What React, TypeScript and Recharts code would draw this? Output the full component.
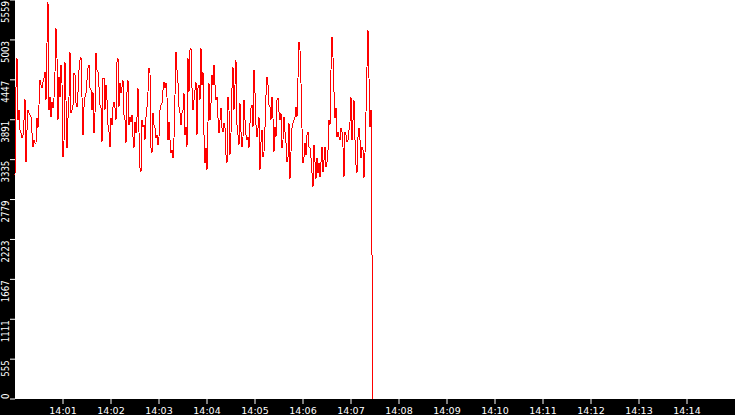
import { LineChart, Line, XAxis, YAxis, CartesianGrid } from 'recharts';

// one reading every 1.25 s starting at 14:00:00
const sampleStep = 1.25;

const readings = [
  3120, 4346, 4750, 3886, 4026, 3747, 3705, 3636, 3677, 3886,
  4179, 3301, 3747, 4026, 3984, 3956, 3928, 3705, 3510, 3608,
  3566, 3566, 3914, 3775, 4095, 4444, 4374, 4332, 4416, 4471,
  4555, 4165, 4959, 5530, 4026, 4207, 3928, 4137, 4054, 4193,
  4555, 5168, 4750, 3886, 4485, 4207, 4653, 4402, 3371, 3580,
  4694, 4165, 3496, 3914, 4207, 4834, 3984, 4026, 4095, 4541,
  4513, 4123, 4067, 4276, 4583, 4722, 4764, 4207, 3677, 4067,
  4207, 4263, 4444, 4611, 4653, 4332, 4304, 4026, 4276, 3705,
  3984, 4820, 4583, 4555, 4346, 4095, 4054, 3580, 4471, 4471,
  4026, 4374, 4165, 3817, 3719, 3510, 3914, 3817, 4067, 4137,
  4054, 3886, 4694, 4750, 4067, 4402, 4263, 4346, 4444, 3956,
  3886, 3566, 4276, 4444, 3817, 3928, 3859, 3956, 3650, 3496,
  3859, 3705, 3928, 4332, 3719, 3218, 3162, 3886, 3789, 3817,
  3608, 3928, 4067, 4276, 4611, 4541, 3496, 3427, 3984, 3817,
  3775, 3636, 3677, 3538, 3650, 4026, 4095, 4123, 4304, 4416,
  4332, 4402, 4207, 3608, 3859, 3608, 3427, 3469, 3357, 3636,
  4235, 4834, 4583, 4402, 4067, 3984, 3817, 3984, 4026, 4263,
  3677, 3789, 3510, 4750, 4276, 4862, 4889, 4332, 4026, 4165,
  4304, 4416, 3677, 4332, 4374, 4165, 4889, 4374, 4555, 3677,
  3287, 3496, 3190, 3859, 4402, 3886, 4123, 4513, 4374, 4653,
  4374, 4165, 4207, 3914, 3705, 3886, 4054, 3775, 3719, 3845,
  3775, 3399, 3287, 4207, 4026, 3399, 3705, 4332, 4625, 4026,
  4374, 4722, 3817, 3677, 3538, 4123, 3719, 3510, 3650, 4165,
  3886, 3677, 3608, 3650, 3496, 3845, 4054, 4095, 3789, 4583,
  4263, 3817, 3650, 3775, 3928, 3190, 3580, 3747, 3371, 3441,
  3789, 4235, 4485, 4374, 4095, 4067, 3886, 4207, 3914, 3441,
  3789, 3650, 4165, 4193, 3998, 3886, 3984, 3496, 3608, 3928,
  3719, 3566, 3301, 3371, 3845, 3065, 3441, 3775, 3845, 3886,
  3928, 4067, 3928, 4471, 4973, 4862, 4402, 3775, 3287, 3371,
  3566, 3399, 3677, 3719, 3510, 3496, 3357, 3148, 2953, 3538,
  3301, 3065, 3357, 3148, 3287, 3092, 3301, 3510, 3162, 3329,
  3510, 3232, 3301, 3469, 3886, 3817, 4583, 5043, 4764, 4276,
  3914, 4054, 3650, 3719, 3650, 3608, 3775, 3719, 3510, 3092,
  3719, 3677, 3580, 3608, 3747, 3859, 4207, 3608, 3886, 4165,
  3608, 3260, 3148, 3650, 3775, 3608, 3357, 3510, 3469, 3078,
  3427, 3998, 4625, 5140, 4471, 3789, 4026, 2006, 0,
];

const yTicks = [0, 555, 1111, 1667, 2223, 2779, 3335, 3891, 4447, 5003, 5559];
const xTickSeconds = [60, 120, 180, 240, 300, 360, 420, 480, 540, 600, 660, 720, 780, 840];
const xTickLabels = ['14:01', '14:02', '14:03', '14:04', '14:05', '14:06', '14:07', '14:08', '14:09', '14:10', '14:11', '14:12', '14:13', '14:14'];

const data = readings.map((v, i) => ({ t: i * sampleStep, v }));

const YTick = (props: any) => {
  const { y, payload } = props;
  const bottom = payload.value === 0;
  const ty = bottom ? y : y + 1;
  return (
    <text
      x={9}
      y={ty}
      transform={`rotate(-90, 9, ${ty})`}
      textAnchor={bottom ? 'start' : 'end'}
      fill="#fff"
      fontSize={9.6}
      fontFamily="'Liberation Sans Narrow', 'DejaVu Sans Condensed', sans-serif"
    >
      {payload.value}
    </text>
  );
};

const XTick = (props: any) => {
  const { x, payload } = props;
  const idx = xTickSeconds.indexOf(payload.value);
  return (
    <text x={x} y={414} textAnchor="middle" fill="#fff" fontSize={9.5} fontFamily="'DejaVu Sans', sans-serif">
      {xTickLabels[idx]}
    </text>
  );
};

export default function App() {
  return (
    <div style={{ position: 'fixed', top: 0, left: 0, width: 735, height: 415, background: '#000' }}>
      <LineChart width={735} height={415} data={data} margin={{ top: 0, right: 0, bottom: 0, left: 0 }}>
        <CartesianGrid fill="#fff" stroke="none" horizontal={false} vertical={false} />
        <XAxis
          dataKey="t"
          type="number"
          domain={[0, 900]}
          ticks={xTickSeconds}
          height={16}
          axisLine={false}
          tickLine={{ stroke: '#fff' }}
          tickSize={5}
          tick={<XTick />}
          interval={0}
        />
        <YAxis
          type="number"
          domain={[0, 5559]}
          ticks={yTicks}
          width={15}
          axisLine={false}
          tickLine={{ stroke: '#fff' }}
          tickSize={5}
          tick={<YTick />}
          interval={0}
        />
        <Line
          type="linear"
          dataKey="v"
          stroke="#ff0000"
          strokeWidth={1}
          dot={false}
          isAnimationActive={false}
          shapeRendering="crispEdges"
        />
      </LineChart>
    </div>
  );
}
